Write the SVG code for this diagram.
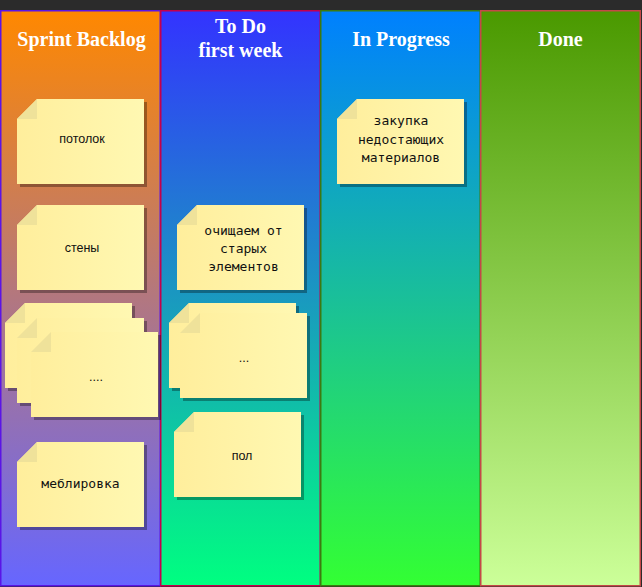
<svg xmlns="http://www.w3.org/2000/svg" width="642" height="587" viewBox="0 0 642 587">
  <style>
    .title { font-family: "Liberation Serif", "Times New Roman", serif; font-weight: bold; font-size: 20px; fill: #ffffff; text-anchor: middle; }
    .lbl { font-family: "Liberation Sans", Arial, sans-serif; font-size: 12.5px; fill: #111111; text-anchor: middle; }
    .mono { font-family: "DejaVu Sans Mono", "Liberation Mono", monospace; font-size: 13px; fill: #111111; text-anchor: middle; }
    .paper { fill: url(#paper); }
    .fold { fill: #efe29a; }
    .shadow { fill: #000000; opacity: 0.32; }
  </style>
  <defs>
    <linearGradient id="g1" x1="0" y1="0" x2="0" y2="1">
      <stop offset="0" stop-color="#ff8800"/>
      <stop offset="1" stop-color="#6666ff"/>
    </linearGradient>
    <linearGradient id="g2" x1="0" y1="0" x2="0" y2="1">
      <stop offset="0" stop-color="#3333ff"/>
      <stop offset="1" stop-color="#00ff80"/>
    </linearGradient>
    <linearGradient id="g3" x1="0" y1="0" x2="0" y2="1">
      <stop offset="0" stop-color="#0080ff"/>
      <stop offset="1" stop-color="#33ff33"/>
    </linearGradient>
    <linearGradient id="g4" x1="0" y1="0" x2="0" y2="1">
      <stop offset="0" stop-color="#4a9900"/>
      <stop offset="1" stop-color="#ccff99"/>
    </linearGradient>
    <linearGradient id="paper" x1="0" y1="0" x2="1" y2="0">
      <stop offset="0" stop-color="#ffee9c"/>
      <stop offset="1" stop-color="#fff8b2"/>
    </linearGradient>
    <!-- sticky note: 127x85 with a folded top-left corner -->
    <path id="noteShape" d="M20,0H127V85H0V20Z"/>
    <g id="note">
      <use href="#noteShape" class="shadow" transform="translate(3,3)"/>
      <use href="#noteShape" class="paper"/>
      <path class="fold" d="M0,20L20,0V20Z"/>
    </g>
  </defs>

  <!-- window strip -->
  <rect x="0" y="0" width="642" height="587" fill="#2b2b2b"/>

  <!-- board columns -->
  <g id="col-backlog">
    <rect x="0.75" y="10.75" width="159.5" height="575" fill="url(#g1)" stroke="#5a14e6" stroke-width="1.5"/>
    <text class="title" x="81.5" y="46">Sprint Backlog</text>
  </g>
  <g id="col-todo">
    <rect x="160.75" y="10.75" width="159.5" height="575" fill="url(#g2)" stroke="#c4004c" stroke-width="1.5"/>
    <text class="title" x="240.5" y="33">To Do</text>
    <text class="title" x="240.5" y="57">first week</text>
  </g>
  <g id="col-progress">
    <rect x="320.75" y="10.75" width="159.5" height="575" fill="url(#g3)" stroke="#3c7a10" stroke-width="1.5"/>
    <text class="title" x="401" y="46">In Progress</text>
  </g>
  <g id="col-done">
    <rect x="480.75" y="10.75" width="159.5" height="575" fill="url(#g4)" stroke="#c44848" stroke-width="1.5"/>
    <text class="title" x="560.5" y="46">Done</text>
  </g>

  <!-- Sprint Backlog notes -->
  <g id="note-ceiling">
    <use href="#note" transform="translate(17,99)"/>
    <text class="lbl" x="82" y="143">потолок</text>
  </g>
  <g id="note-walls">
    <use href="#note" transform="translate(17,205)"/>
    <text class="lbl" x="82" y="252">стены</text>
  </g>
  <g id="note-backlog-stack">
    <use href="#note" transform="translate(5,303)"/>
    <use href="#note" transform="translate(17,318)"/>
    <use href="#note" transform="translate(31,332)"/>
    <text class="lbl" x="96" y="381">....</text>
  </g>
  <g id="note-furniture">
    <use href="#note" transform="translate(17,442)"/>
    <text class="mono" x="80.5" y="488">меблировка</text>
  </g>

  <!-- To Do notes -->
  <g id="note-cleanup">
    <use href="#note" transform="translate(177,205)"/>
    <text class="mono" x="243.5" y="235">очищаем от</text>
    <text class="mono" x="243.5" y="253">старых</text>
    <text class="mono" x="243.5" y="271">элементов</text>
  </g>
  <g id="note-todo-stack">
    <use href="#note" transform="translate(169,303)"/>
    <use href="#note" transform="translate(180,313)"/>
    <text class="lbl" x="244" y="362">...</text>
  </g>
  <g id="note-floor">
    <use href="#note" transform="translate(174,412)"/>
    <text class="lbl" x="242" y="460">пол</text>
  </g>

  <!-- In Progress notes -->
  <g id="note-purchase">
    <use href="#note" transform="translate(337,99)"/>
    <text class="mono" x="401" y="125">закупка</text>
    <text class="mono" x="401" y="144">недостающих</text>
    <text class="mono" x="401" y="162">материалов</text>
  </g>
</svg>
